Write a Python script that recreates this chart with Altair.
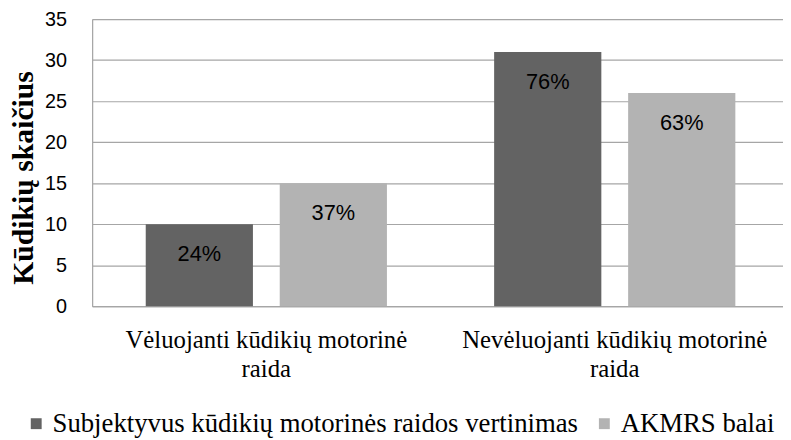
import altair as alt
import pandas as pd

categories = ["Vėluojanti kūdikių motorinė raida", "Nevėluojanti kūdikių motorinė raida"]
category_lines = [["Vėluojanti kūdikių motorinė", "raida"], ["Nevėluojanti kūdikių motorinė", "raida"]]
series = ["Subjektyvus kūdikių motorinės raidos vertinimas", "AKMRS balai"]
subj_values = [10, 31]
akmrs_values = [15, 26]
subj_labels = ["24%", "76%"]
akmrs_labels = ["37%", "63%"]
colors = ["#636363", "#b3b3b3"]

rows = []
for i, c in enumerate(categories):
    rows.append({"cat": c, "series": series[0], "value": subj_values[i], "label": subj_labels[i]})
    rows.append({"cat": c, "series": series[1], "value": akmrs_values[i], "label": akmrs_labels[i]})
df = pd.DataFrame(rows)

label_expr = " : ".join(
    [f"datum.value == '{c}' ? {l!r}" for c, l in zip(categories, category_lines)]
) + " : datum.label"

x_scale = alt.Scale(paddingInner=0, paddingOuter=0)
xoff_scale = alt.Scale(paddingInner=0.2, paddingOuter=0.4)

x_enc = alt.X(
    "cat:N",
    sort=categories,
    scale=x_scale,
    axis=alt.Axis(
        title=None,
        labelExpr=label_expr,
        labelAngle=0,
        labelFont="Liberation Serif",
        labelFontSize=25,
        labelColor="#000000",
        labelLineHeight=29,
        labelPadding=22,
        labelBaseline="top",
        labelLimit=1000,
        ticks=False,
        domainColor="#a6a6a6",
        domainWidth=1.2,
    ),
)

bars = alt.Chart(df).mark_bar().encode(
    x=x_enc,
    xOffset=alt.XOffset("series:N", sort=series, scale=xoff_scale),
    y=alt.Y(
        "value:Q",
        scale=alt.Scale(domain=[0, 35], nice=False),
        axis=alt.Axis(
            values=[0, 5, 10, 15, 20, 25, 30, 35],
            title="Kūdikių skaičius",
            titleFont="Liberation Serif",
            titleFontSize=30,
            titleFontWeight="bold",
            titleColor="#000000",
            titleAngle=-90,
            titleX=-60,
            titleY=160,
            titleBaseline="alphabetic",
            titleAlign="center",
            labelFont="Liberation Sans",
            labelFontSize=20,
            labelColor="#000000",
            labelPadding=26,
            ticks=False,
            gridColor="#a6a6a6",
            gridWidth=1.2,
            domainColor="#a6a6a6",
            domainWidth=1.2,
        ),
    ),
    color=alt.Color(
        "series:N",
        sort=series,
        scale=alt.Scale(domain=series, range=colors),
        legend=alt.Legend(
            title=None,
            orient="none",
            direction="horizontal",
            legendX=-70,
            legendY=395,
            padding=0,
            symbolType="square",
            symbolSize=121,
            symbolStrokeWidth=0,
            labelFont="Liberation Serif",
            labelFontSize=27,
            labelColor="#000000",
            labelLimit=1000,
            columnPadding=13,
            labelOffset=3,
        ),
    ),
)

texts = alt.Chart(df).mark_text(
    baseline="middle", dy=30, font="Liberation Sans", fontSize=22, color="#000000"
).encode(
    x=alt.X("cat:N", sort=categories, scale=x_scale),
    xOffset=alt.XOffset("series:N", sort=series, scale=xoff_scale),
    y=alt.Y("value:Q"),
    text="label:N",
)

chart = (
    alt.layer(bars, texts)
    .properties(
        width=704,
        height=290,
        autosize=alt.AutoSizeParams(type="none"),
        padding={"left": 85, "top": 9, "right": -6, "bottom": 132},
    )
    .configure_view(stroke=None)
    .configure(background="#ffffff")
)

chart.save("out.html", embed_options={"renderer": "svg", "actions": False})
